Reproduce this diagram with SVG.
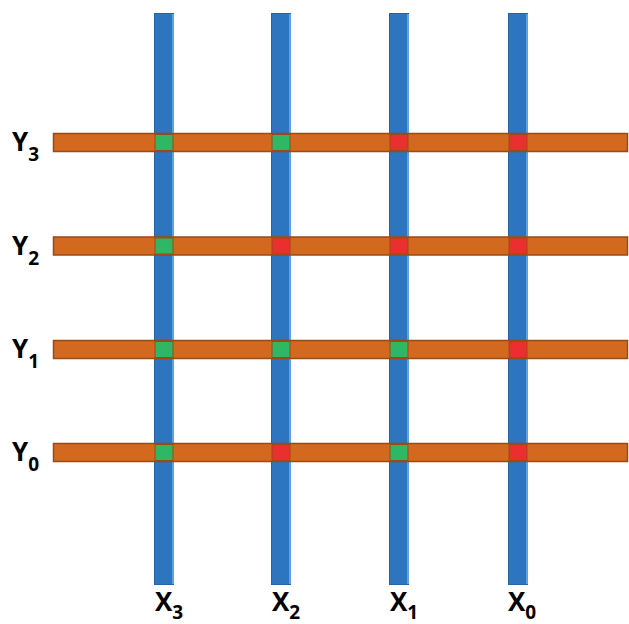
<svg xmlns="http://www.w3.org/2000/svg" width="629" height="624" viewBox="0 0 629 624">
<style>
.v{fill:#2e75c0;stroke:#2563a8;stroke-width:1}
.vh{fill:#5aa3e6}
.h{fill:#d2691f;stroke:#9a4a15;stroke-width:1.5}
.g{fill:#2fb765}
.r{fill:#ea2f2f}
.c{stroke:#9a4a15;stroke-width:1}
.lbl{font-family:"Open Sans","Liberation Sans",sans-serif;font-weight:bold;font-size:26px;fill:#000}
.sub{font-size:19px}
</style>
<g id="wires-x">
<g id="x3"><rect class="v" x="154.5" y="13.5" width="19" height="571"/><rect class="vh" x="172" y="14" width="2" height="570"/></g>
<g id="x2"><rect class="v" x="271.5" y="13.5" width="19" height="571"/><rect class="vh" x="289" y="14" width="2" height="570"/></g>
<g id="x1"><rect class="v" x="389.5" y="13.5" width="19" height="571"/><rect class="vh" x="407" y="14" width="2" height="570"/></g>
<g id="x0"><rect class="v" x="508.5" y="13.5" width="19" height="571"/><rect class="vh" x="526" y="14" width="2" height="570"/></g>
</g>
<g id="wires-y">
<rect id="y3" class="h" x="53.5" y="133.5" width="574" height="18"/>
<rect id="y2" class="h" x="53.5" y="237" width="574" height="18"/>
<rect id="y1" class="h" x="53.5" y="340.5" width="574" height="18"/>
<rect id="y0" class="h" x="53.5" y="443.5" width="574" height="18"/>
</g>
<g id="cells">
<rect class="g c" x="155" y="134.5" width="18" height="16"/>
<rect class="g c" x="272" y="134.5" width="18" height="16"/>
<rect class="r c" x="390" y="134.5" width="18" height="16"/>
<rect class="r c" x="509" y="134.5" width="18" height="16"/>
<rect class="g c" x="155" y="238" width="18" height="16"/>
<rect class="r c" x="272" y="238" width="18" height="16"/>
<rect class="r c" x="390" y="238" width="18" height="16"/>
<rect class="r c" x="509" y="238" width="18" height="16"/>
<rect class="g c" x="155" y="341.5" width="18" height="16"/>
<rect class="g c" x="272" y="341.5" width="18" height="16"/>
<rect class="g c" x="390" y="341.5" width="18" height="16"/>
<rect class="r c" x="509" y="341.5" width="18" height="16"/>
<rect class="g c" x="155" y="444.5" width="18" height="16"/>
<rect class="r c" x="272" y="444.5" width="18" height="16"/>
<rect class="g c" x="390" y="444.5" width="18" height="16"/>
<rect class="r c" x="509" y="444.5" width="18" height="16"/>
</g>
<g id="labels">
<text class="lbl" x="12" y="151">Y<tspan class="sub" dy="10">3</tspan></text>
<text class="lbl" x="12" y="255">Y<tspan class="sub" dy="10">2</tspan></text>
<text class="lbl" x="12" y="358">Y<tspan class="sub" dy="10">1</tspan></text>
<text class="lbl" x="12" y="461">Y<tspan class="sub" dy="10">0</tspan></text>
<text class="lbl" x="155" y="611">X<tspan class="sub" dy="8">3</tspan></text>
<text class="lbl" x="272" y="611">X<tspan class="sub" dy="8">2</tspan></text>
<text class="lbl" x="390" y="611">X<tspan class="sub" dy="8">1</tspan></text>
<text class="lbl" x="508" y="611">X<tspan class="sub" dy="8">0</tspan></text>
</g>
</svg>
